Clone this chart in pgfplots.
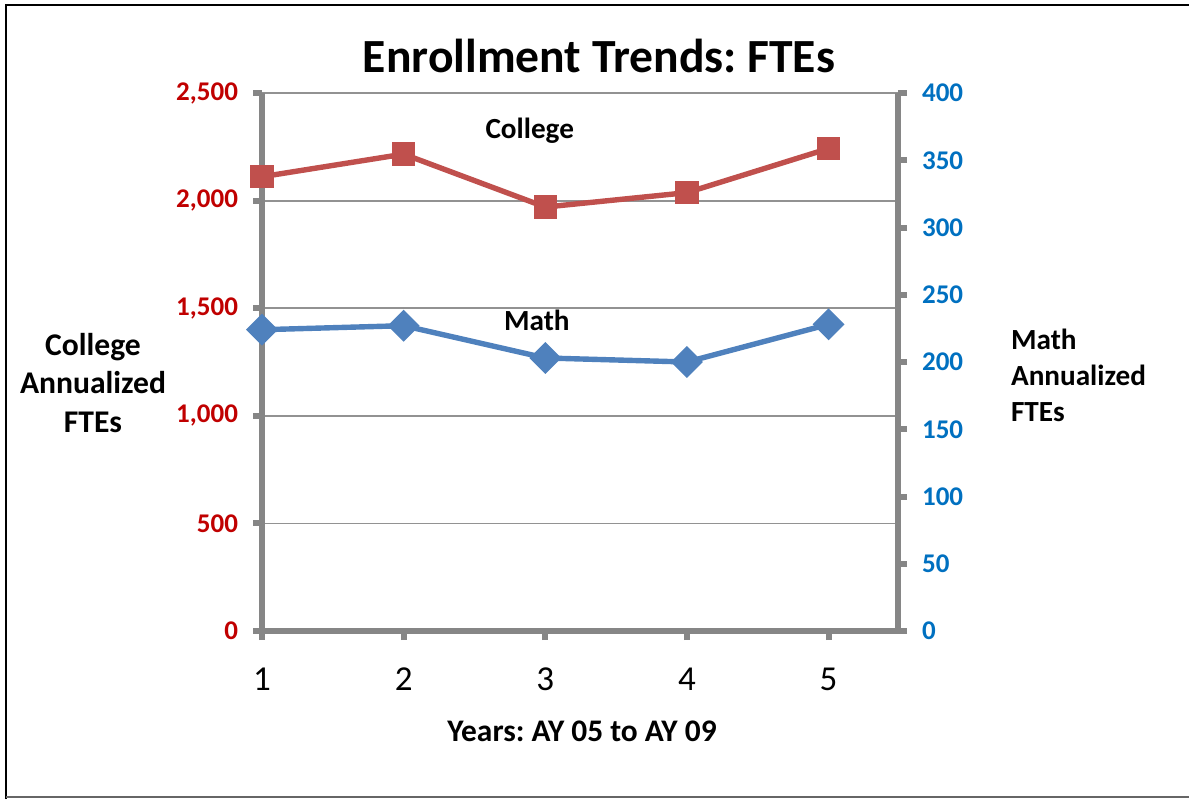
\documentclass[border=0pt]{standalone}
\usepackage{fontspec}
\setmainfont{Carlito}
\usepackage{pgfplots}
\pgfplotsset{compat=1.18}
\definecolor{colred}{HTML}{C0504D}
\definecolor{colblue}{HTML}{4F81BD}
\definecolor{labred}{HTML}{C00000}
\definecolor{labblue}{HTML}{0070C0}
\definecolor{axgray}{HTML}{868686}
\frenchspacing

\begin{document}
\begin{tikzpicture}
\useasboundingbox (0,0) rectangle (594.5pt,399.5pt);
\pgfplotsset{
  common/.style={
    at={(131pt,84pt)}, anchor=south west,
    scale only axis, width=318pt, height=269pt,
    xmin=1, xmax=5.49, ymin=0,
    axis line style={-, line width=3pt, color=axgray},
    tick align=outside, major tick length=4.5pt,
    tick style={line width=3pt, color=axgray},
    /pgf/number format/assume math mode=true,
    /pgf/number format/1000 sep={,},
    clip=false,
  }
}
% left axis: college
\begin{axis}[common,
  axis x line*=bottom, axis y line*=left,
  ymax=2500, ytick={0,500,...,2500},
  xtick={1,...,5},
  ymajorgrids, grid style={line width=0.9pt, color=axgray!90},
  yticklabel style={font=\fontsize{13.5}{14}\selectfont\bfseries, color=labred, xshift=-4pt},
  xticklabel style={font=\fontsize{17.5}{18}\selectfont, yshift=-10.5pt},
]
\addplot[colred, line width=2.7pt, mark=square*, mark size=4.5pt, mark options={solid}]
  coordinates {(1,2111) (2,2216) (3,1970) (4,2037) (5,2242)};
\node[font=\fontsize{14.6}{15}\selectfont\bfseries] at (axis cs:2.89,2323) {College};
\end{axis}
% right axis: math
\begin{axis}[common,
  axis x line=none, axis y line*=right,
  ymax=400, ytick={0,50,...,400},
  yticklabel style={font=\fontsize{13.5}{14}\selectfont\bfseries, color=labblue, xshift=4pt},
]
\addplot[colblue, line width=2.7pt, mark=square*, mark size=4.3pt, mark options={solid, rotate=45}]
  coordinates {(1,224) (2,227) (3,203) (4,200) (5,228)};
\node[font=\fontsize{14.6}{15}\selectfont\bfseries] at (axis cs:2.94,231) {Math};
\end{axis}
% titles and labels
\node[font=\fontsize{23.8}{24}\selectfont\bfseries] at (299.5pt,371.5pt) {Enrollment Trends: FTEs};
\node[align=center, font=\fontsize{15.8}{19.3}\selectfont\bfseries] at (46.5pt,208pt) {College\\Annualized\\FTEs};
\node[align=left, anchor=west, font=\fontsize{14.6}{18}\selectfont\bfseries] at (502pt,212pt) {Math\\Annualized\\FTEs};
\node[font=\fontsize{15.7}{16}\selectfont\bfseries] at (291pt,34pt) {Years: AY 05 to AY 09};
% chart frame
\draw[black, line width=1.2pt] (3pt,0pt) -- (3pt,397pt) -- (594.5pt,397pt);
\draw[gray!80!black, line width=0.8pt] (3pt,1pt) -- (594.5pt,1pt);
\end{tikzpicture}
\end{document}
